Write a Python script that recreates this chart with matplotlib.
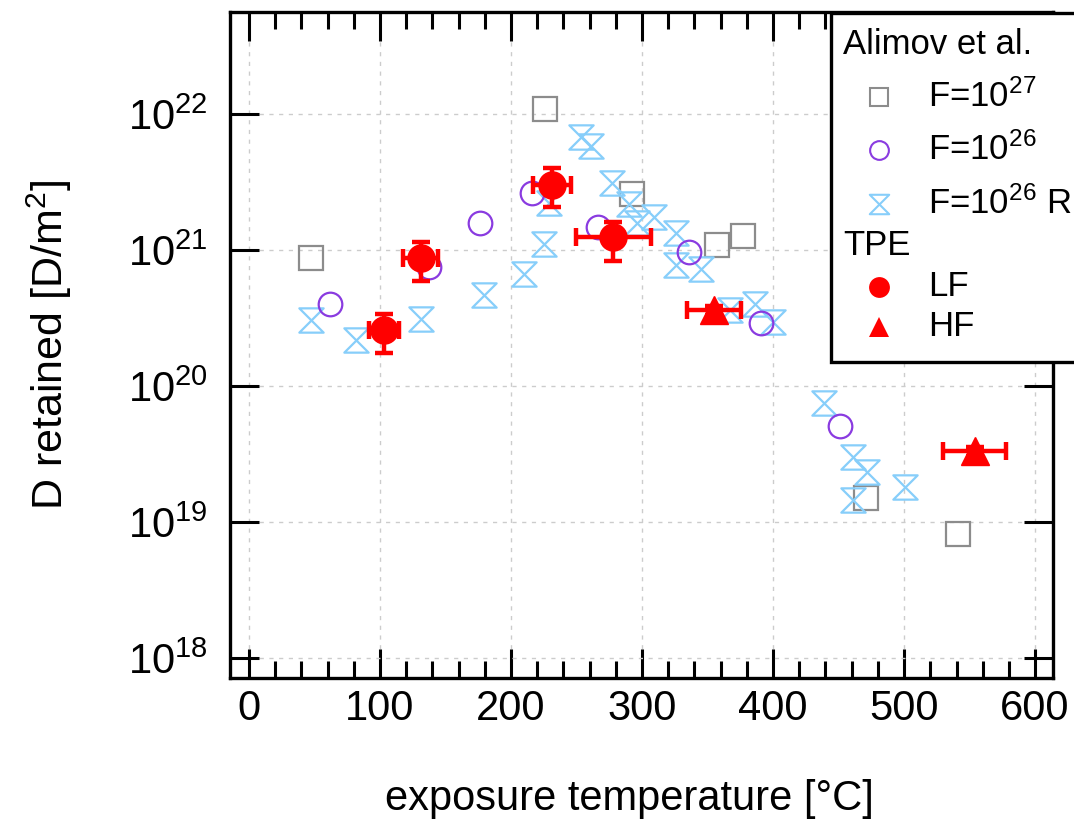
import numpy as np
import matplotlib
matplotlib.use("Agg")
from matplotlib import pyplot as plt
from matplotlib.path import Path
from matplotlib.lines import Line2D
from matplotlib.patches import Rectangle
from matplotlib.ticker import MultipleLocator, NullLocator, LogLocator

plt.rcParams['font.family'] = ['Liberation Sans', 'DejaVu Sans']
plt.rcParams['mathtext.fontset'] = 'custom'
plt.rcParams['mathtext.rm'] = 'Liberation Sans'
plt.rcParams['mathtext.it'] = 'Liberation Sans:italic'

# Alimov et al., F = 1e27
t_f27 = [47, 226, 292, 357, 377, 471, 541]
d_f27 = [8.8e20, 1.09e22, 2.6e21, 1.09e21, 1.27e21, 1.5e19, 8.1e18]

# Alimov et al., F = 1e26
t_f26 = [62, 137, 176, 216, 266, 336, 391, 451]
d_f26 = [4.0e20, 7.5e20, 1.58e21, 2.64e21, 1.48e21, 9.6e20, 2.9e20, 5.1e19]

# Alimov et al., F = 1e26 R
t_f26r = [47, 82, 131, 179, 210, 225, 229, 253, 261, 277, 290, 296, 309,
          326, 326, 345, 367, 386, 400, 439, 461, 472, 461, 501]
d_f26r = [3.05e20, 2.18e20, 3.1e20, 4.7e20, 6.7e20, 1.11e21, 2.2e21, 6.8e21,
          5.85e21, 3.1e21, 2.18e21, 1.59e21, 1.74e21, 1.34e21, 7.7e20,
          7.2e20, 3.6e20, 4.0e20, 2.97e20, 7.5e19, 3.0e19, 2.35e19,
          1.44e19, 1.82e19]

# TPE low flux
t_lf = [103, 131, 231, 278]
t_lf_err = [11.5, 13.3, 14.5, 28.6]
d_lf = [2.6e20, 8.8e20, 3.0e21, 1.24e21]
d_lf_lo = [1.75e20, 5.9e20, 2.06e21, 8.3e20]
d_lf_hi = [3.4e20, 1.15e21, 4.0e21, 1.61e21]

# TPE high flux
t_hf = [355, 554]
t_hf_err = [20.7, 24.0]
d_hf = [3.6e20, 3.3e19]
d_hf_lo = [3.3e20, 3.05e19]
d_hf_hi = [3.9e20, 3.55e19]

c_sq = '#8c8c8c'
c_circ = '#8a3be0'
c_hg = '#87cefa'
c_red = '#ff0000'

# hourglass marker: bars top and bottom joined by crossing diagonals
hourglass = Path([(-1, 1), (1, 1), (-1, -1), (1, -1), (-1, 1)],
                 [Path.MOVETO, Path.LINETO, Path.LINETO, Path.LINETO, Path.CLOSEPOLY])

fig = plt.figure(figsize=(10.74, 8.25), dpi=100)
ax = fig.add_axes([0.2142, 0.1782, 0.7663, 0.8076])

ax.grid(True, which='major', color='#cccccc', linestyle=(0, (3, 4)), linewidth=1.0)
ax.set_axisbelow(True)

ax.plot(t_f27, d_f27, ls='none', marker='s', ms=17, mfc='none', mec=c_sq, mew=1.6, zorder=3)
ax.plot(t_f26r, d_f26r, ls='none', marker=hourglass, ms=17.5, mfc='none', mec=c_hg, mew=1.6, zorder=3)
ax.plot(t_f26, d_f26, ls='none', marker='o', ms=17, mfc='none', mec=c_circ, mew=1.6, zorder=4)

lf_yerr = [np.array(d_lf) - np.array(d_lf_lo), np.array(d_lf_hi) - np.array(d_lf)]
hf_yerr = [np.array(d_hf) - np.array(d_hf_lo), np.array(d_hf_hi) - np.array(d_hf)]
ax.errorbar(t_lf, d_lf, xerr=t_lf_err, yerr=lf_yerr, fmt='o', ms=19.5, color=c_red,
            ecolor=c_red, elinewidth=3.2, capsize=6.5, capthick=3.2, zorder=5)
ax.errorbar(t_hf, d_hf, xerr=t_hf_err, yerr=hf_yerr, fmt='^', ms=19.5, color=c_red,
            ecolor=c_red, elinewidth=3.2, capsize=6.5, capthick=3.2, zorder=5)

ax.set_yscale('log')
ax.set_xlim(-14.5, 613.7)
ax.set_ylim(10 ** 17.853, 10 ** 22.752)
ax.xaxis.set_major_locator(MultipleLocator(100))
ax.xaxis.set_minor_locator(MultipleLocator(20))
ax.yaxis.set_major_locator(LogLocator(base=10, numticks=10))
ax.yaxis.set_minor_locator(NullLocator())

for s in ax.spines.values():
    s.set_linewidth(2.4)
ax.tick_params(which='both', direction='in', top=True, right=True, width=2.2, labelsize=30)
ax.tick_params(which='major', length=21)
ax.tick_params(which='minor', length=12)
ax.tick_params(axis='x', pad=8)
ax.tick_params(axis='y', pad=16)

ax.set_xlabel('exposure temperature [°C]', fontsize=30)
ax.set_ylabel('D retained [D/m$^2$]', fontsize=31)
ax.xaxis.set_label_coords(0.485, -0.152)
ax.yaxis.set_label_coords(-0.19, 0.5)

# legend box, drawn by hand on figure coordinates
W, H = 1074.0, 825.0
def fx(px):
    return px / W
def fy(py):
    return 1 - py / H

box = Rectangle((fx(831), fy(362)), fx(300), (362 - 13) / H, transform=fig.transFigure,
                facecolor='white', edgecolor='black', linewidth=2.4, zorder=10, clip_on=False)
fig.add_artist(box)

fs_leg = 25
fig.text(fx(843), fy(45), 'Alimov et al.', fontsize=fs_leg, va='center', ha='left', zorder=11)
fig.text(fx(843), fy(246), 'TPE', fontsize=fs_leg, va='center', ha='left', zorder=11)

rows = [
    (97, dict(marker='s', ms=13.5, mfc='none', mec=c_sq, mew=1.5), 'F=10$^{27}$'),
    (150, dict(marker='o', ms=13.5, mfc='none', mec=c_circ, mew=1.5), 'F=10$^{26}$'),
    (204, dict(marker=hourglass, ms=14, mfc='none', mec=c_hg, mew=1.5), 'F=10$^{26}$ R'),
    (287, dict(marker='o', ms=15, mfc=c_red, mec=c_red, mew=0), 'LF'),
    (327, dict(marker='^', ms=15, mfc=c_red, mec=c_red, mew=0), 'HF'),
]
for py, style, label in rows:
    fig.add_artist(Line2D([fx(879)], [fy(py)], transform=fig.transFigure, ls='none',
                          zorder=11, **style))
    fig.text(fx(928), fy(py), label, fontsize=fs_leg, va='center', ha='left', zorder=11)

fig.savefig('out.png', dpi=100)
